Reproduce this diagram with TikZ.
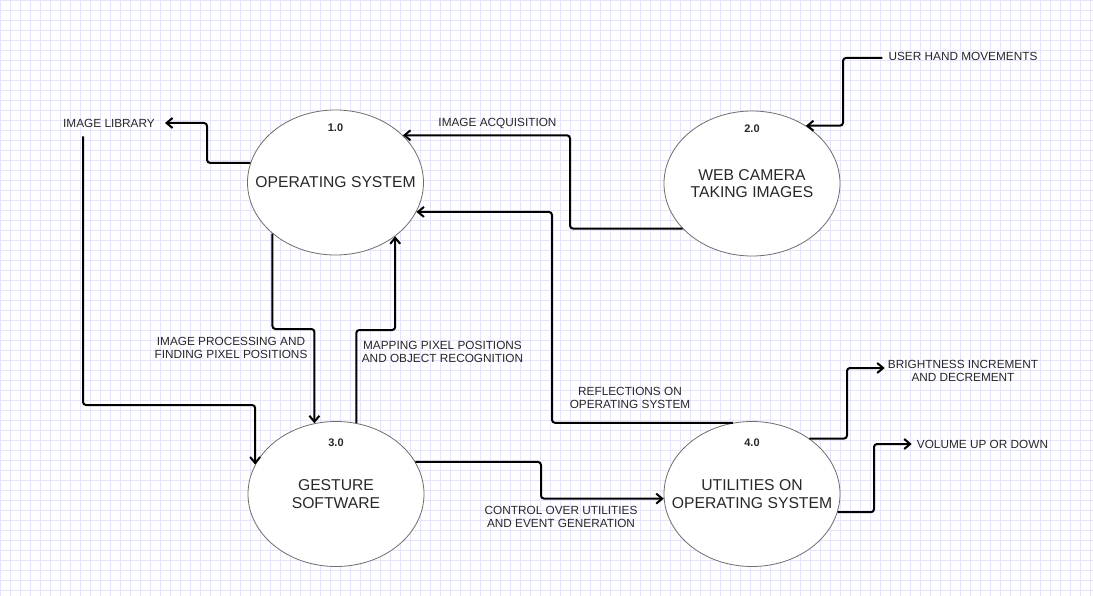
\documentclass[tikz,border=0pt]{standalone}
\usepackage{fontspec}
\setmainfont{Liberation Sans}
\usetikzlibrary{shapes.geometric,arrows.meta}
\definecolor{gridblue}{RGB}{228,228,250}
\definecolor{inkgrey}{RGB}{40,40,40}
\definecolor{edgegrey}{RGB}{110,110,110}
\tikzset{
  process/.style={ellipse,draw=edgegrey,line width=0.8pt,fill=white,
    minimum width=176pt,minimum height=145pt,inner xsep=-45pt,inner ysep=0pt,
    align=center,text=inkgrey,font=\fontsize{15.7}{17.5}\selectfont},
  procno/.style={inner sep=0pt,text=inkgrey,font=\fontsize{11}{13}\selectfont\bfseries},
  flowlabel/.style={inner sep=3pt,align=center,text=inkgrey,
    font=\fontsize{11.8}{13}\selectfont},
  flow/.style={line width=2pt,rounded corners=3pt,
    -{Straight Barb[length=6pt,width=10pt]}}
}
\begin{document}
\begin{tikzpicture}[x=1pt,y=-1pt]
  \fill[white] (0,0) rectangle (1093,596);
  \useasboundingbox (0,0) rectangle (1093,596);
  \foreach \gx in {0,10,...,1090} \draw[gridblue,line width=0.8pt] (\gx,0) -- (\gx,596);
  \foreach \gy in {0,10,...,590} \draw[gridblue,line width=0.8pt] (0,\gy) -- (1093,\gy);

  % processes
  \node[process] (os) at (335.5,182.5) {OPERATING SYSTEM};
  \node[process] (cam) at (752,183.5) {WEB CAMERA\\TAKING IMAGES};
  \node[process] (gest) at (336,494) {GESTURE\\SOFTWARE};
  \node[process] (util) at (752,494) {UTILITIES ON\\OPERATING SYSTEM};
  \node[procno] (osno) at ([yshift=-18pt]os.north) {1.0};
  \node[procno] (camno) at ([yshift=-18pt]cam.north) {2.0};
  \node[procno] (gestno) at ([yshift=-22pt]gest.north) {3.0};
  \node[procno] (utilno) at ([yshift=-22pt]util.north) {4.0};

  % flow labels
  \node[flowlabel] (lib) at (109,123) {IMAGE LIBRARY};
  \node[flowlabel] (acq) at (497.5,123) {IMAGE ACQUISITION};
  \node[flowlabel] (hand) at (963,56) {USER HAND MOVEMENTS};
  \node[flowlabel] (proc) at (231,347.5) {IMAGE PROCESSING AND\\FINDING PIXEL POSITIONS};
  \node[flowlabel] (map) at (442.5,352) {MAPPING PIXEL POSITIONS\\AND OBJECT RECOGNITION};
  \node[flowlabel] (refl) at (630,398) {REFLECTIONS ON\\OPERATING SYSTEM};
  \node[flowlabel] (ctrl) at (561,517) {CONTROL OVER UTILITIES\\AND EVENT GENERATION};
  \node[flowlabel] (bright) at (963,370.5) {BRIGHTNESS INCREMENT\\AND DECREMENT};
  \node[flowlabel] (vol) at (982.5,444) {VOLUME UP OR DOWN};

  % flows
  \draw[flow] (os.167) -| (207,140) |- ([xshift=7pt]lib.east);
  \draw[flow] ([xshift=23pt,yshift=-6pt]lib.south west) |- (200,405) -| (gest.160);
  \draw[flow] (os.219) |- (300,329) -| (gest.107);
  \draw[flow] (gest.74) |- (370,330) -| (os.318);
  \draw[flow] (cam.213) -| (570,180) |- (os.35);
  \draw[flow] (util.105) -| (552,300) |- (os.340);
  \draw[flow] ([xshift=-3pt,yshift=-2pt]hand.west) -| (843,90) |- (cam.47);
  \draw[flow] (gest.22) -| (541,480) |- (util.183);
  \draw[flow] (util.44) -| (847,400) |- ([yshift=2.5pt]bright.west);
  \draw[flow] (util.348) -| (874,480) |- ([xshift=-2pt]vol.west);
\end{tikzpicture}
\end{document}
